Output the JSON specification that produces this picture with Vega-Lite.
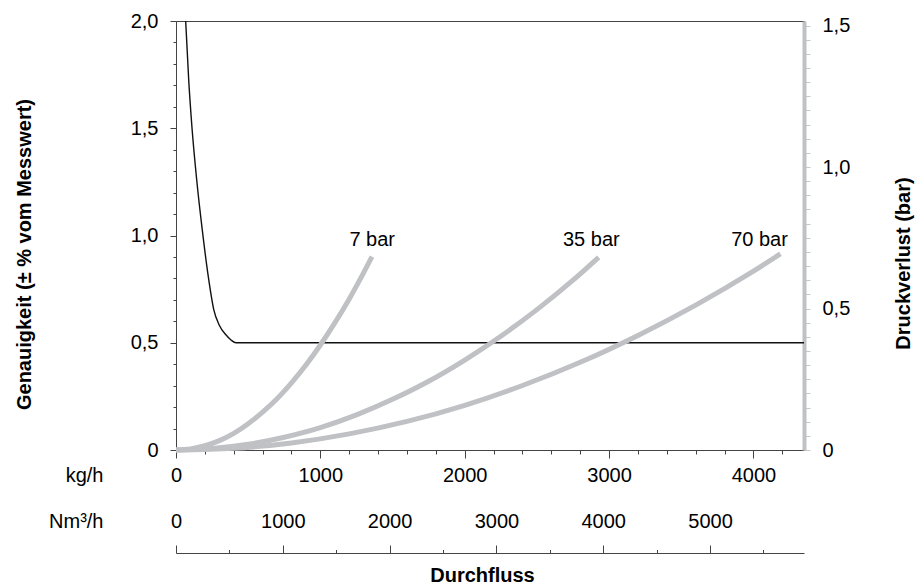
{
  "$schema": "https://vega.github.io/schema/vega-lite/v6.json",
  "width": 628,
  "height": 429,
  "autosize": {"type": "none"},
  "padding": {"left": 176, "top": 21, "right": 112, "bottom": 136},
  "config": {
    "font": "Liberation Sans",
    "view": {"stroke": "#444444", "strokeWidth": 1},
    "axis": {"labelFlush": false, "labelOverlap": false, "grid": false, "labelFont": "Liberation Sans", "titleFont": "Liberation Sans", "labelFontSize": 20, "titleFontSize": 20, "labelColor": "#000000", "titleColor": "#000000", "domainColor": "#444444", "tickColor": "#444444"}
  },
  "datasets": {
    "accuracy": [
      {"kg": 67, "acc": 2.0}, {"kg": 88, "acc": 1.725}, {"kg": 112, "acc": 1.492}, {"kg": 143.5, "acc": 1.259},
      {"kg": 182, "acc": 1.026}, {"kg": 227, "acc": 0.793}, {"kg": 262, "acc": 0.653}, {"kg": 299, "acc": 0.583},
      {"kg": 347, "acc": 0.536}, {"kg": 381, "acc": 0.513}, {"kg": 416, "acc": 0.5}, {"kg": 4350, "acc": 0.5}
    ],
    "pressure": [
      {"series": "7 bar", "kg": 0, "dp": 0}, {"series": "7 bar", "kg": 100, "dp": 0.004}, {"series": "7 bar", "kg": 200, "dp": 0.015},
      {"series": "7 bar", "kg": 300, "dp": 0.033}, {"series": "7 bar", "kg": 400, "dp": 0.059}, {"series": "7 bar", "kg": 500, "dp": 0.093},
      {"series": "7 bar", "kg": 600, "dp": 0.134}, {"series": "7 bar", "kg": 700, "dp": 0.181}, {"series": "7 bar", "kg": 800, "dp": 0.237},
      {"series": "7 bar", "kg": 900, "dp": 0.300}, {"series": "7 bar", "kg": 1000, "dp": 0.371}, {"series": "7 bar", "kg": 1100, "dp": 0.449},
      {"series": "7 bar", "kg": 1200, "dp": 0.534}, {"series": "7 bar", "kg": 1300, "dp": 0.627}, {"series": "7 bar", "kg": 1357, "dp": 0.683},
      {"series": "35 bar", "kg": 0, "dp": 0}, {"series": "35 bar", "kg": 250, "dp": 0.005}, {"series": "35 bar", "kg": 500, "dp": 0.020},
      {"series": "35 bar", "kg": 750, "dp": 0.045}, {"series": "35 bar", "kg": 1000, "dp": 0.079}, {"series": "35 bar", "kg": 1250, "dp": 0.124},
      {"series": "35 bar", "kg": 1500, "dp": 0.179}, {"series": "35 bar", "kg": 1750, "dp": 0.243}, {"series": "35 bar", "kg": 2000, "dp": 0.318},
      {"series": "35 bar", "kg": 2250, "dp": 0.402}, {"series": "35 bar", "kg": 2500, "dp": 0.496}, {"series": "35 bar", "kg": 2750, "dp": 0.600},
      {"series": "35 bar", "kg": 2928, "dp": 0.681},
      {"series": "70 bar", "kg": 0, "dp": 0}, {"series": "70 bar", "kg": 400, "dp": 0.006}, {"series": "70 bar", "kg": 800, "dp": 0.025},
      {"series": "70 bar", "kg": 1200, "dp": 0.057}, {"series": "70 bar", "kg": 1600, "dp": 0.101}, {"series": "70 bar", "kg": 2000, "dp": 0.158},
      {"series": "70 bar", "kg": 2400, "dp": 0.228}, {"series": "70 bar", "kg": 2800, "dp": 0.310}, {"series": "70 bar", "kg": 3200, "dp": 0.405},
      {"series": "70 bar", "kg": 3600, "dp": 0.512}, {"series": "70 bar", "kg": 4000, "dp": 0.632}, {"series": "70 bar", "kg": 4187, "dp": 0.693}
    ],
    "labels": [
      {"kg": 1359, "dp": 0.721, "label": "7 bar"},
      {"kg": 2877, "dp": 0.721, "label": "35 bar"},
      {"kg": 4042, "dp": 0.721, "label": "70 bar"}
    ],
    "nm3": [{"nm3": 0}, {"nm3": 5880}]
  },
  "layer": [
    {
      "data": {"name": "accuracy"},
      "mark": {"type": "line", "interpolate": "monotone", "stroke": "#111111", "strokeWidth": 1.4},
      "encoding": {
        "x": {"field": "kg", "type": "quantitative", "scale": {"domain": [0, 4350], "nice": false},
          "axis": {"orient": "bottom", "values": [0,200,400,600,800,1000,1200,1400,1600,1800,2000,2200,2400,2600,2800,3000,3200,3400,3600,3800,4000,4200],
            "labelExpr": "datum.value % 1000 === 0 ? toString(datum.value) : ''",
            "tickSize": {"condition": {"test": "datum.value % 1000 === 0", "value": 8}, "value": 4},
            "labelPadding": 7,
            "title": "kg/h", "titleFontWeight": "normal", "titleX": -73, "titleY": 31, "titleAlign": "right", "titleBaseline": "alphabetic", "titleAngle": 0}},
        "y": {"field": "acc", "type": "quantitative", "scale": {"domain": [0, 2], "nice": false},
          "axis": {"orient": "left", "values": [0,0.1,0.2,0.3,0.4,0.5,0.6,0.7,0.8,0.9,1.0,1.1,1.2,1.3,1.4,1.5,1.6,1.7,1.8,1.9,2.0],
            "labelExpr": "abs(datum.value*2 - round(datum.value*2)) < 0.001 ? (datum.value == 0 ? '0' : replace(format(datum.value, '.1f'), '.', ',')) : ''",
            "tickSize": {"condition": {"test": "abs(datum.value*2 - round(datum.value*2)) < 0.001", "value": 6}, "value": 3},
            "labelPadding": 12,
            "title": "Genauigkeit (± % vom Messwert)", "titleFontWeight": "bold", "titleX": -152, "titleY": 233, "titleAngle": -90, "titleAlign": "center", "titleBaseline": "middle"}}
      }
    },
    {
      "data": {"name": "pressure"},
      "mark": {"type": "line", "interpolate": "monotone", "stroke": "#c0c1c5", "strokeWidth": 5},
      "encoding": {
        "detail": {"field": "series", "type": "nominal"},
        "x": {"field": "kg", "type": "quantitative", "scale": {"domain": [0, 4350], "nice": false}, "axis": null},
        "y": {"field": "dp", "type": "quantitative", "scale": {"domain": [0, 1.516], "nice": false},
          "axis": {"orient": "right", "values": [0,0.05,0.1,0.15,0.2,0.25,0.3,0.35,0.4,0.45,0.5,0.55,0.6,0.65,0.7,0.75,0.8,0.85,0.9,0.95,1.0,1.05,1.1,1.15,1.2,1.25,1.3,1.35,1.4,1.45,1.5],
            "labelExpr": "abs(datum.value*2 - round(datum.value*2)) < 0.001 ? (datum.value == 0 ? '0' : replace(format(datum.value, '.1f'), '.', ',')) : ''",
            "domainColor": "#c0c1c5", "domainWidth": 4, "tickColor": "#c8c9cd", "tickSize": 6, "labelPadding": 12,
            "title": "Druckverlust (bar)", "titleFontWeight": "bold", "titleX": 99, "titleY": 242, "titleAngle": -90, "titleAlign": "center", "titleBaseline": "middle"}}
      }
    },
    {
      "data": {"name": "labels"},
      "mark": {"type": "text", "fontSize": 20, "font": "Liberation Sans", "align": "center", "baseline": "alphabetic", "color": "#000000"},
      "encoding": {
        "x": {"field": "kg", "type": "quantitative", "scale": {"domain": [0, 4350], "nice": false}, "axis": null},
        "y": {"field": "dp", "type": "quantitative", "scale": {"domain": [0, 1.516], "nice": false}, "axis": null},
        "text": {"field": "label", "type": "nominal"}
      }
    },
    {
      "data": {"name": "nm3"},
      "mark": {"type": "point", "opacity": 0},
      "encoding": {
        "x": {"field": "nm3", "type": "quantitative", "scale": {"domain": [0, 5880], "nice": false},
          "axis": {"orient": "top", "offset": -532, "values": [0,500,1000,1500,2000,2500,3000,3500,4000,4500,5000,5500],
            "labelExpr": "datum.value % 1000 === 0 ? toString(datum.value) : ''",
            "tickSize": {"condition": {"test": "datum.value % 1000 === 0", "value": 8}, "value": 3.5},
            "labelPadding": 14,
            "title": "Nm³/h", "titleFontWeight": "normal", "titleX": -73, "titleY": -26, "titleAlign": "right", "titleBaseline": "alphabetic", "titleAngle": 0}}
      }
    },
    {
      "data": {"name": "nm3"},
      "mark": {"type": "point", "opacity": 0},
      "encoding": {
        "x": {"field": "nm3", "type": "quantitative", "scale": {"domain": [0, 5880], "nice": false},
          "axis": {"orient": "bottom", "domain": false, "ticks": false, "labels": false,
            "title": "Durchfluss", "titleFontWeight": "bold", "titleX": 306, "titleY": 131, "titleAlign": "center", "titleBaseline": "alphabetic", "titleAngle": 0}}
      }
    }
  ],
  "resolve": {"scale": {"x": "independent", "y": "independent"}}
}
